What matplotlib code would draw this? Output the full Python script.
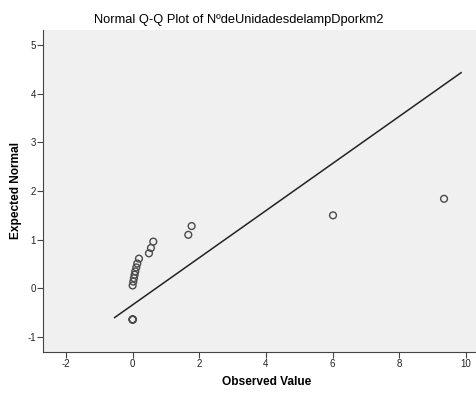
import numpy as np
import matplotlib
matplotlib.use("Agg")
import matplotlib.pyplot as plt

plt.rcParams['font.family'] = ['Liberation Sans', 'DejaVu Sans']
plt.rcParams['axes.unicode_minus'] = False

obs = [0.0, 0.0, 0.0, 0.0, 0.0, 0.0, 0.02, 0.04, 0.06, 0.08, 0.11, 0.14, 0.19,
       0.49, 0.55, 0.62, 1.67, 1.77, 6.01, 9.34]
expn = [-0.64, -0.64, -0.64, -0.64, -0.64, 0.06, 0.14, 0.21, 0.28, 0.35, 0.43, 0.51, 0.61,
        0.72, 0.83, 0.96, 1.10, 1.28, 1.50, 1.84]
line_x = [-0.54, 9.85]
line_y = [-0.60, 4.43]

xticks = [-2, 0, 2, 4, 6, 8, 10]
yticks = [-1, 0, 1, 2, 3, 4, 5]

fig = plt.figure(figsize=(4.77, 3.93), dpi=100)
ax = fig.add_axes([0.090, 0.104, 0.908, 0.820])
ax.set_facecolor('#f0f0f0')

ax.plot(line_x, line_y, color='#222222', linewidth=1.1)
ax.scatter(obs, expn, s=24, facecolors='none', edgecolors='#4a4a4a', linewidths=1.0, zorder=3)

ax.set_xlim(-2.69, 10.3)
ax.set_ylim(-1.31, 5.31)
ax.set_xticks(xticks)
ax.set_yticks(yticks)
ax.tick_params(direction='out', length=4, width=0.8, colors='#444444', labelsize=7,
               labelcolor='#222222', pad=1)
for s in ['top', 'right']:
    ax.spines[s].set_visible(False)
for s in ['left', 'bottom']:
    ax.spines[s].set_color('#444444')
    ax.spines[s].set_linewidth(0.8)

ax.set_xlabel('Observed Value', fontsize=8.6, fontweight='bold')
ax.set_ylabel('Expected Normal', fontsize=8.6, fontweight='bold')
ax.xaxis.set_label_coords(0.517, -0.075)
ax.yaxis.set_label_coords(-0.048, 0.5)
fig.text(0.5, 0.949, 'Normal Q-Q Plot of NºdeUnidadesdelampDporkm2', fontsize=9.3,
         ha='center', va='center', color='black')

plt.savefig('out.png', dpi=100)
